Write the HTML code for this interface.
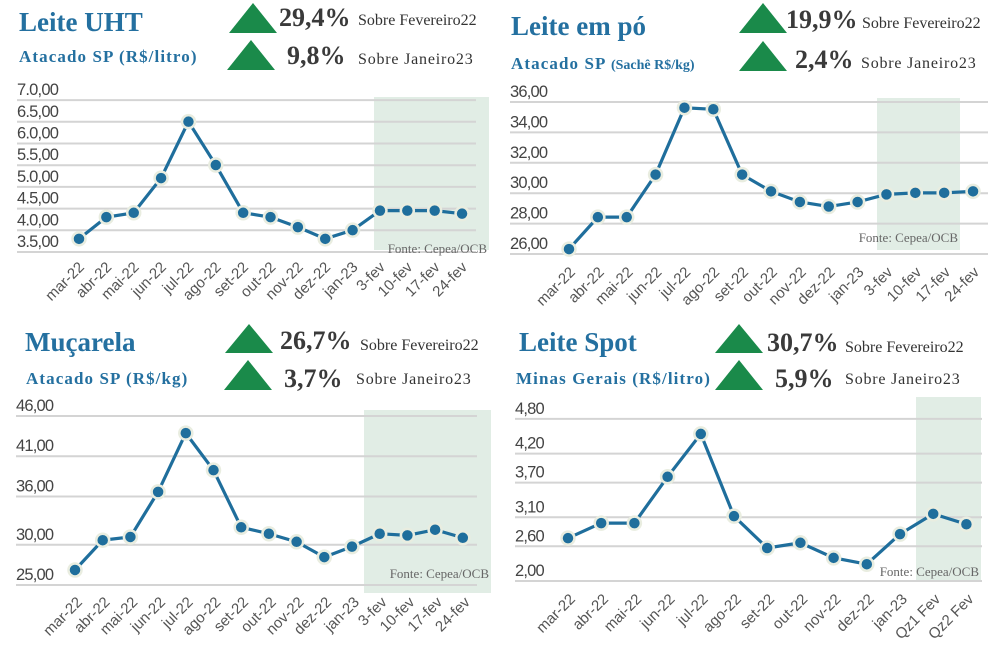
<!DOCTYPE html>
<html><head><meta charset="utf-8"><style>
html,body{margin:0;padding:0;background:#fff}
svg{display:block}
.ttl{font-family:"Liberation Serif",serif;font-weight:bold;fill:#2470a0}
.sub{letter-spacing:1.1px}
.pct{font-family:"Liberation Serif",serif;font-weight:bold;fill:#3a3a3a;font-size:26px}
.sob{font-family:"Liberation Serif",serif;fill:#333;font-size:16px}
.sob2{letter-spacing:0.8px}
.yt{font-family:"Liberation Sans",sans-serif;fill:#444;font-size:16.5px;letter-spacing:-0.8px}
.xt{font-family:"Liberation Sans",sans-serif;fill:#555;font-size:15px}
.src{font-family:"Liberation Serif",serif;fill:#666;font-size:13px}
</style></head><body>
<svg id="c" width="996" height="652" viewBox="0 0 996 652" xmlns="http://www.w3.org/2000/svg">
<g>
<text class="ttl" x="19" y="31" font-size="27">Leite UHT</text>
<text class="ttl sub" x="19" y="62" font-size="17">Atacado SP (R$/litro)</text>
<polygon points="229,33 253,3 277,33" fill="#1a8a4a"/>
<polygon points="227,70 251,40 275,70" fill="#1a8a4a"/>
<text class="pct" x="279" y="26">29,4%</text>
<text class="sob" x="358" y="25">Sobre Fevereiro22</text>
<text class="pct" x="287" y="64">9,8%</text>
<text class="sob sob2" x="358" y="64">Sobre Janeiro23</text>

<text class="ttl" x="511" y="35" font-size="27">Leite em pó</text>
<text class="ttl sub" x="511" y="69" font-size="17">Atacado SP <tspan font-size="14" letter-spacing="0">(Sachê R$/kg)</tspan></text>
<polygon points="739,33 763,3 787,33" fill="#1a8a4a"/>
<polygon points="739,71 763,41 787,71" fill="#1a8a4a"/>
<text class="pct" x="786" y="28">19,9%</text>
<text class="sob" x="862" y="28">Sobre Fevereiro22</text>
<text class="pct" x="795" y="68">2,4%</text>
<text class="sob sob2" x="861" y="68">Sobre Janeiro23</text>

<text class="ttl" x="25" y="351" font-size="27">Muçarela</text>
<text class="ttl sub" x="26" y="384" font-size="17">Atacado SP (R$/kg)</text>
<polygon points="225,353 249,324 273,353" fill="#1a8a4a"/>
<polygon points="224,390 248,360 272,390" fill="#1a8a4a"/>
<text class="pct" x="280" y="349">26,7%</text>
<text class="sob" x="360" y="350">Sobre Fevereiro22</text>
<text class="pct" x="284" y="387">3,7%</text>
<text class="sob sob2" x="356" y="384">Sobre Janeiro23</text>

<text class="ttl" x="519" y="351" font-size="27">Leite Spot</text>
<text class="ttl sub" x="516" y="384" font-size="17">Minas Gerais (R$/litro)</text>
<polygon points="715,353 739,324 763,353" fill="#1a8a4a"/>
<polygon points="715,390 739,360 763,390" fill="#1a8a4a"/>
<text class="pct" x="767" y="351">30,7%</text>
<text class="sob" x="845" y="352">Sobre Fevereiro22</text>
<text class="pct" x="775" y="387">5,9%</text>
<text class="sob sob2" x="845" y="384">Sobre Janeiro23</text>
</g>
</svg>
<script>
const cats1=["mar-22","abr-22","mai-22","jun-22","jul-22","ago-22","set-22","out-22","nov-22","dez-22","jan-23","3-fev","10-fev","17-fev","24-fev"];
const vals1=[3.55,4.05,4.15,4.95,6.25,5.25,4.15,4.05,3.82,3.55,3.75,4.2,4.2,4.2,4.13];
const tickVals1=[3.5,4.0,4.5,5.0,5.5,6.0,6.5,7.0];
const tickLabels1=["3.5,00","4.0,00","4.5,00","5.0,00","5.5,00","6.0,00","6.5,00","7.0,00"];

const cats2=["mar-22","abr-22","mai-22","jun-22","jul-22","ago-22","set-22","out-22","nov-22","dez-22","jan-23","3-fev","10-fev","17-fev","24-fev"];
const vals2=[25.6,27.7,27.7,30.5,34.9,34.8,30.5,29.4,28.7,28.4,28.7,29.2,29.3,29.3,29.4];
const tickVals2=[26,28,30,32,34,36];
const tickLabels2=["26,00","28,00","30,00","32,00","34,00","36,00"];

const cats3=["mar-22","abr-22","mai-22","jun-22","jul-22","ago-22","set-22","out-22","nov-22","dez-22","jan-23","3-fev","10-fev","17-fev","24-fev"];
const vals3=[25.5,29.2,29.6,35.2,42.5,37.9,30.8,30.0,29.0,27.1,28.4,30.0,29.8,30.5,29.5];
const tickVals3=[25,30,36,41,46];
const tickLabels3=["25,00","30,00","36,00","41,00","46,00"];

const cats4=["mar-22","abr-22","mai-22","jun-22","jul-22","ago-22","set-22","out-22","nov-22","dez-22","jan-23","Qz1 Fev","Qz2 Fev"];
const vals4=[2.55,2.81,2.81,3.61,4.35,2.93,2.38,2.47,2.21,2.10,2.62,2.97,2.79];
const tickVals4=[2.0,2.6,3.1,3.7,4.2,4.8];
const tickLabels4=["2,00","2,60","3,10","3,70","4,20","4,80"];

const NS="http://www.w3.org/2000/svg";
const svg=document.getElementById('c');
function mk(t,a,p){const e=document.createElementNS(NS,t);for(const k in a)e.setAttribute(k,a[k]);(p||svg).appendChild(e);return e;}
function chart(id,cats,vals,tv,tl,o){
  const g=mk('g',{});
  
  
  const y=v=>o.base-(v-o.vmin)*o.ppu;
  const x=i=>o.x0+i*o.step;
  const sh=mk('rect',{x:o.sx,y:o.sy,width:o.sw,height:o.shh,fill:'#e1ede5'},g);
  
  
  tv.forEach((v,i)=>{
    const gl=mk('line',{x1:o.gx1,x2:o.gx2,y1:y(v)+11,y2:y(v)+11,stroke:'#d4d4d4','stroke-width':2},g);
    
    
    const t=mk('text',{x:o.gx1,y:y(v)+6,class:'yt'},g);t.textContent=tl[i];
    
    
  });
  const src=mk('text',{x:o.sx+o.sw-2,y:o.srcY,class:'src','text-anchor':'end'},g);src.textContent='Fonte: Cepea/OCB';
  
  
  const ln=mk('polyline',{points:vals.map((v,i)=>x(i)+','+y(v)).join(' '),fill:'none',stroke:'#1f6e9c','stroke-width':3.2},g);
  
  
  vals.forEach((v,i)=>{
    const c=mk('circle',{cx:x(i),cy:y(v),r:6.5,fill:'#1f6e9c',stroke:'#e9ede0','stroke-width':2.5},g);
    
    
  });
  cats.forEach((c,i)=>{
    const px=x(i)+o.lx,py=o.ly;
    const t=mk('text',{x:px,y:py,class:'xt','text-anchor':'end',transform:'rotate(-45 '+px+' '+py+')'},g);t.textContent=c;
    
    
  });
}
chart('leite-uht',cats1,vals1,tickVals1,tickLabels1,{base:241,vmin:3.5,ppu:43.4,x0:79,step:27.36,gx1:17,gx2:476,sx:374,sy:97,sw:115,shh:153,srcY:253,lx:6,ly:268});
chart('leite-po',cats2,vals2,tickVals2,tickLabels2,{base:243,vmin:26,ppu:15.2,x0:569,step:28.86,gx1:510,gx2:988,sx:877,sy:98,sw:83,shh:152,srcY:242,lx:7,ly:273});
chart('mucarela',cats3,vals3,tickVals3,tickLabels3,{base:574,vmin:25,ppu:8.05,x0:75,step:27.7,gx1:16,gx2:477,sx:364,sy:410,sw:127,shh:183,srcY:578,lx:8,ly:603});
chart('leite-spot',cats4,vals4,tickVals4,tickLabels4,{base:570,vmin:2.0,ppu:57.9,x0:568,step:33.2,gx1:515,gx2:982,sx:916,sy:397,sw:65,shh:185,srcY:576,lx:8,ly:600});
</script>
</body></html>
